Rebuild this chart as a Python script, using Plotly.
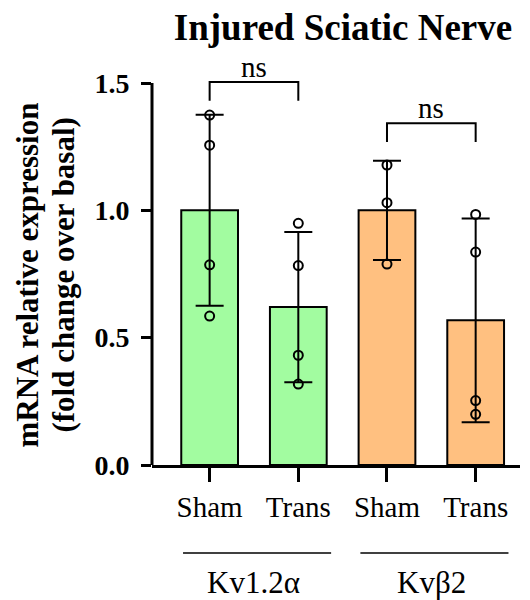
import plotly.graph_objects as go

# ---- data ----
categories = ["Sham", "Trans", "Sham", "Trans"]
groups = ["Kv1.2α", "Kvβ2"]
means = [1.00, 0.62, 1.00, 0.568]
sds = [0.375, 0.295, 0.195, 0.40]
points = [
    [1.374, 1.256, 0.786, 0.585],
    [0.949, 0.783, 0.431, 0.318],
    [1.178, 1.030, 0.789],
    [0.984, 0.836, 0.253, 0.199],
]
bar_colors = ["#A2FCA0", "#A2FCA0", "#FFC080", "#FFC080"]
y_ticks = [0.0, 0.5, 1.0, 1.5]
y_tick_labels = ["0.0", "0.5", "1.0", "1.5"]
y_title_lines = ["mRNA relative expression", "(fold change over basal)"]
comparisons = [(0, 1, 1.504, "ns"), (2, 3, 1.342, "ns")]
group_members = [(0, 1), (2, 3)]

FONT = "Liberation Serif"
xs = list(range(len(categories)))
Y_AXIS_MAX = 1.5

fig = go.Figure()
fig.add_trace(go.Bar(
    x=xs, y=means, width=0.64,
    marker=dict(color=bar_colors, line=dict(color="black", width=2)),
    error_y=dict(type="data", array=sds, visible=True, color="black",
                 thickness=2, width=14),
    showlegend=False,
))
for i, pts in enumerate(points):
    fig.add_trace(go.Scatter(
        x=[xs[i]] * len(pts), y=pts, mode="markers",
        marker=dict(symbol="circle-open", size=9, color="black",
                    line=dict(width=2, color="black")),
        showlegend=False, cliponaxis=False,
    ))

leg = 0.074
for a, b, yb, txt in comparisons:
    fig.add_trace(go.Scatter(
        x=[xs[a], xs[a], xs[b], xs[b]], y=[yb - leg, yb, yb, yb - leg],
        mode="lines", line=dict(color="black", width=2),
        showlegend=False, hoverinfo="skip",
    ))
    fig.add_annotation(x=(xs[a] + xs[b]) / 2, y=yb, text=txt, showarrow=False,
                       xref="x", yref="y", yanchor="bottom", yshift=-3,
                       font=dict(family=FONT, size=29, color="black"))

# y axis line only up to the last tick
fig.add_shape(type="line", xref="paper", yref="y", x0=0, x1=0, y0=0, y1=Y_AXIS_MAX,
              line=dict(color="black", width=3))

for (a, b), g in zip(group_members, groups):
    fig.add_shape(type="line", xref="x", yref="paper",
                  x0=xs[a] - 0.30, x1=xs[b] + 0.37, y0=-0.2146, y1=-0.2146,
                  line=dict(color="black", width=1.5))
    fig.add_annotation(x=(xs[a] + xs[b]) / 2, y=-0.2854, xref="x", yref="paper",
                       text=g, showarrow=False, yanchor="middle", xanchor="center",
                       font=dict(family=FONT, size=31, color="black"))

for line_text, xp in zip(y_title_lines, [-0.341, -0.243]):
    fig.add_annotation(x=xp, y=0.4634, xref="paper", yref="paper",
                       text="<b>" + line_text + "</b>",
                       textangle=-90, showarrow=False, xanchor="center", yanchor="middle",
                       font=dict(family=FONT, size=31, color="black"))

fig.update_layout(
    width=522, height=592,
    margin=dict(l=144, r=10, t=47, b=135),
    paper_bgcolor="white", plot_bgcolor="white",
    title=dict(text="<b>Injured Sciatic Nerve</b>", x=0.519, xref="paper",
               y=0.968, yref="container", xanchor="center", yanchor="middle",
               font=dict(family=FONT, size=37, color="black")),
    xaxis=dict(range=[-0.65, 3.5], tickvals=xs, ticktext=categories,
               showline=True, linecolor="black", linewidth=3,
               ticks="outside", ticklen=14, tickwidth=3, tickcolor="black",
               showgrid=False, zeroline=False,
               tickfont=dict(family=FONT, size=29, color="black")),
    yaxis=dict(range=[0, 1.61], tickvals=y_ticks,
               ticktext=["<b>" + t + "</b>" for t in y_tick_labels],
               showline=False, ticklabelstandoff=6,
               ticks="outside", ticklen=10, tickwidth=3, tickcolor="black",
               showgrid=False, zeroline=False,
               tickfont=dict(family=FONT, size=28, color="black")),
)

fig.write_html("out.html")
